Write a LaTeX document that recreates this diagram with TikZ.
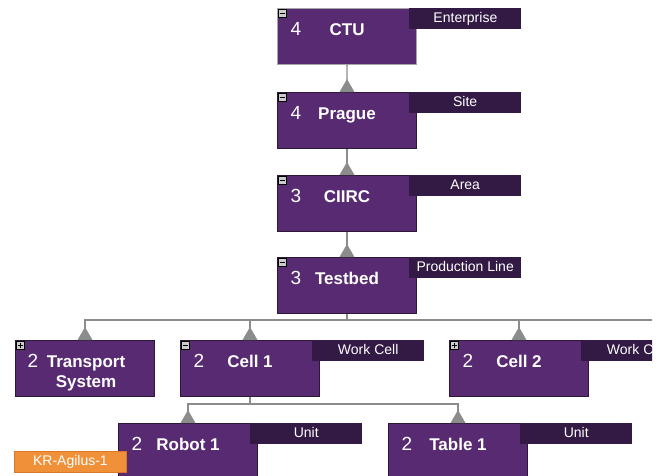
\documentclass[tikz,border=0pt]{standalone}
\usepackage{fontspec}
\setmainfont{Liberation Sans}
\usetikzlibrary{calc}
\definecolor{boxfill}{HTML}{582A72}
\definecolor{boxline}{HTML}{2E1838}
\definecolor{lblfill}{HTML}{331A45}
\definecolor{connc}{HTML}{8C8C8C}
\definecolor{orangef}{HTML}{F0913A}
\definecolor{oranged}{HTML}{D9782A}
\tikzset{
  unitbox/.style={draw=boxline, line width=1pt, fill=boxfill, minimum width=139pt, minimum height=56pt, anchor=north west, inner sep=0pt},
  selbox/.style={unitbox, draw=black!35, line width=1.2pt},
  numtxt/.style={text=white, font=\fontsize{19}{21}\selectfont, anchor=base, inner sep=0pt},
  nametxt/.style={text=white, font=\bfseries\fontsize{17}{20}\selectfont, align=center, anchor=base, inner sep=0pt},
  lvl/.style={fill=lblfill, text=white, font=\fontsize{14}{16}\selectfont, minimum width=112pt, minimum height=21pt, text height=10pt, text depth=2pt, anchor=north west, inner sep=0pt},
  tagbox/.style={fill=orangef, draw=oranged, line width=0.8pt, text=white, font=\fontsize{14}{16}\selectfont, minimum width=112pt, minimum height=21pt, text height=10pt, text depth=2pt, anchor=north west, inner sep=0pt},
  conn/.style={draw=connc, line width=1.3pt},
  tri/.style={fill=connc},
  toggle/.style={draw=black, fill=black!20, line width=0.9pt, minimum size=8.5pt, inner sep=0pt, anchor=north west},
  sign/.style={draw=black, line width=1pt},
}
\newcommand\mkunit[4]{% name, number, text, level
  \node[numtxt] (#1-n) at ($(#1.north west)+(19,27.8)$) {#2};
  \node[nametxt] (#1-t) at ($(#1.north)+(0,27.1)$) {#3};
}
\newcommand\mklvl[2]{\node[lvl] (#1-l) at ($(#1.north east)+(-8,0)$) {#2};}
\newcommand\uptri[1]{\fill[tri] (#1.north) ++(-7.5,0) -- ++(15,0) -- ++(-7.5,-13) -- cycle;}
\newcommand\tgminus[1]{\node[toggle] (#1-g) at ($(#1.north west)+(0.5,0.5)$) {};
  \draw[sign] ($(#1-g.center)+(-2.6,0)$) -- ($(#1-g.center)+(2.6,0)$);}
\newcommand\tgplus[1]{\tgminus{#1}
  \draw[sign] ($(#1-g.center)+(0,-2.6)$) -- ($(#1-g.center)+(0,2.6)$);}
\begin{document}
\begin{tikzpicture}[x=1pt,y=-1pt]
\useasboundingbox (0,0) rectangle (665,475);
\clip (0,0) rectangle (652,475);
% boxes
\node[selbox] (ctu) at (277,8) {};
\node[unitbox] (prague) at (277,92) {};
\node[unitbox] (ciirc) at (277,175) {};
\node[unitbox] (testbed) at (277,257) {};
\node[unitbox] (transport) at (15,340) {};
\node[unitbox] (cell1) at (180,340) {};
\node[unitbox] (cell2) at (449,340) {};
\node[unitbox] (robot1) at (118,423) {};
\node[unitbox] (table1) at (388,423) {};
% connectors
\draw[conn] (ctu.south) -- (prague.north);
\draw[conn] (prague.south) -- (ciirc.north);
\draw[conn] (ciirc.south) -- (testbed.north);
\draw[conn] (testbed.south) -- ++(0,6) coordinate (tb-bar) -| (transport.north);
\draw[conn] (tb-bar) -| (cell1.north);
\draw[conn] (tb-bar) -| (cell2.north);
\coordinate (tb-right) at ($(tb-bar)+(400,0)$);
\draw[conn] (tb-bar) -- (tb-right);
\draw[conn] (cell1.south) -- ++(0,7) coordinate (c1-bar) -| (robot1.north);
\draw[conn] (c1-bar) -| (table1.north);
\uptri{prague}\uptri{ciirc}\uptri{testbed}
\uptri{transport}\uptri{cell1}\uptri{cell2}
\uptri{robot1}\uptri{table1}
% texts
\mkunit{ctu}{4}{CTU}{}
\mkunit{prague}{4}{Prague}{}
\mkunit{ciirc}{3}{CIIRC}{}
\mkunit{testbed}{3}{Testbed}{}
\node[numtxt] (transport-n) at ($(transport.north west)+(18,27.8)$) {2};
\node[nametxt, anchor=center] (transport-t) at ($(transport.north)+(1,33)$) {Transport\\System};
\mkunit{cell1}{2}{Cell 1}{}
\mkunit{cell2}{2}{Cell 2}{}
\mkunit{robot1}{2}{Robot 1}{}
\mkunit{table1}{2}{Table 1}{}
% level labels
\mklvl{ctu}{Enterprise}
\mklvl{prague}{Site}
\mklvl{ciirc}{Area}
\mklvl{testbed}{Production Line}
\mklvl{cell1}{Work Cell}
\mklvl{cell2}{Work Cell}
\mklvl{robot1}{Unit}
\mklvl{table1}{Unit}
% toggles
\tgminus{ctu}\tgminus{prague}\tgminus{ciirc}\tgminus{testbed}
\tgplus{transport}\tgminus{cell1}\tgplus{cell2}
% tag
\node[tagbox] (robot1-tag) at ($(robot1.north west)+(-104,28)$) {KR-Agilus-1};
\end{tikzpicture}
\end{document}
